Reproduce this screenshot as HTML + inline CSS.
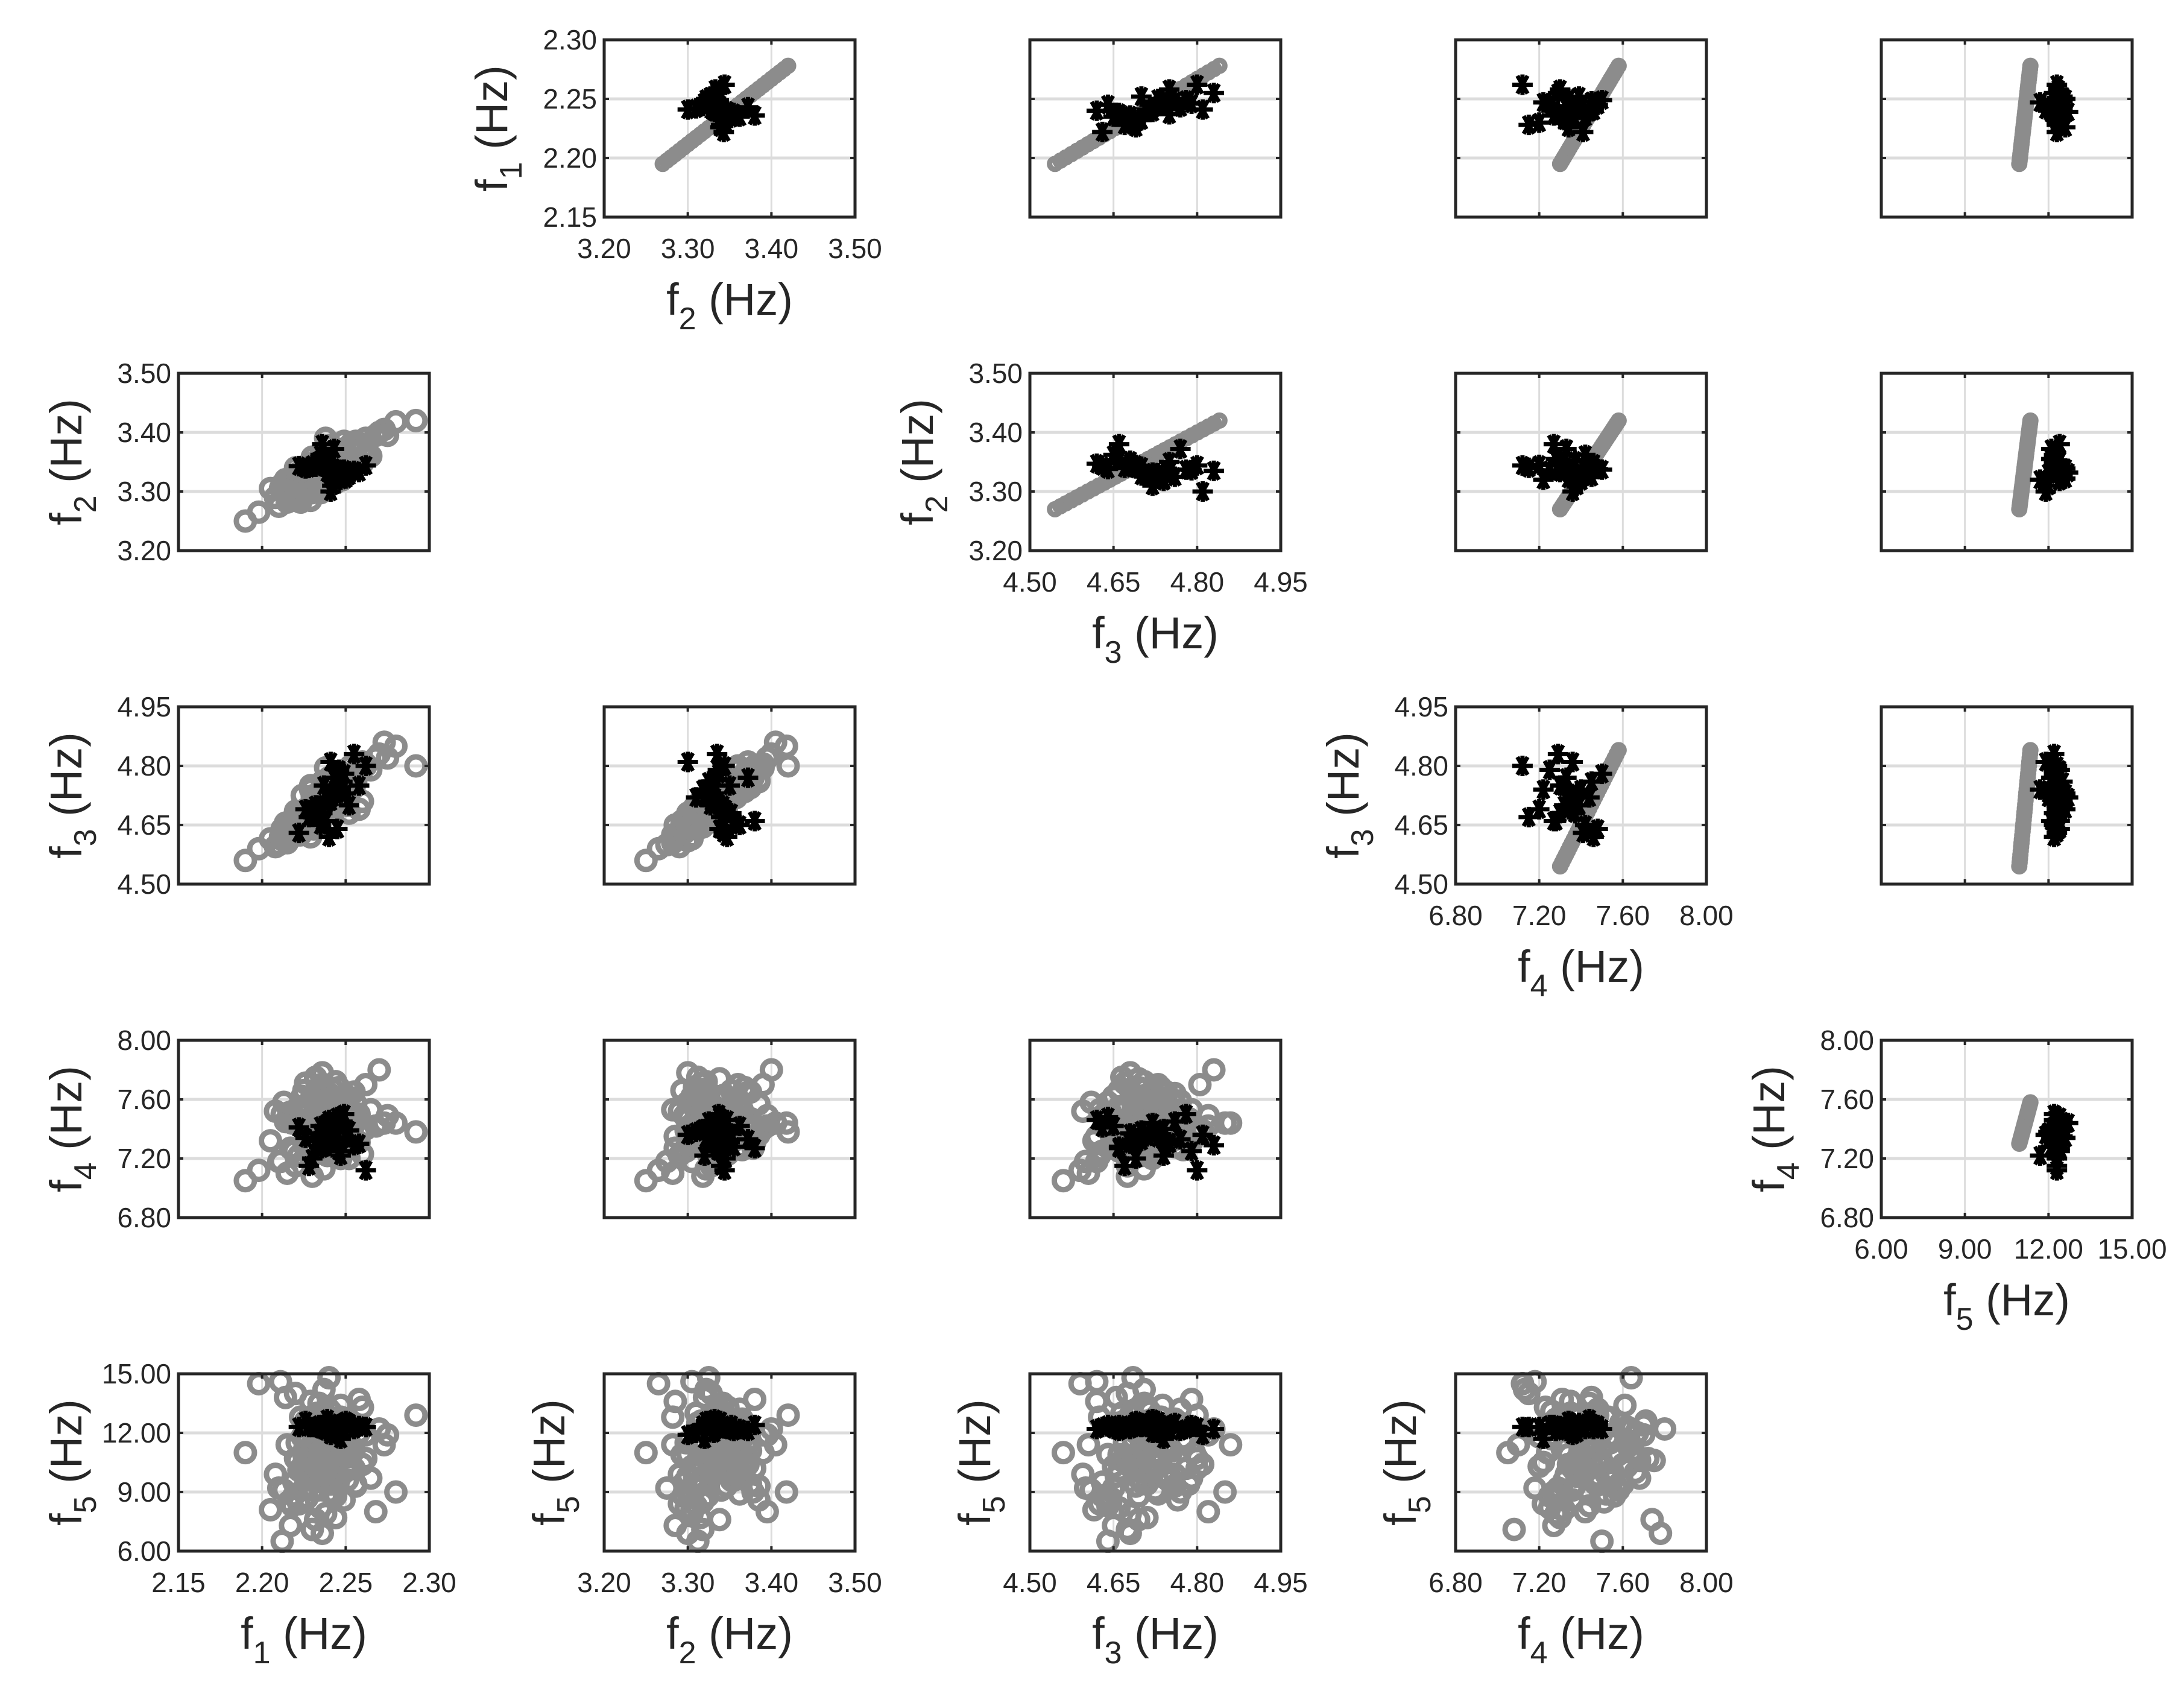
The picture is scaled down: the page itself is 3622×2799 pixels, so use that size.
<!DOCTYPE html>
<html><head><meta charset="utf-8"><style>
html,body{margin:0;padding:0;background:#fff}
svg{display:block}
text{font-family:"Liberation Sans",Arial,sans-serif;fill:#262626}
</style></head><body>
<svg id="fig" width="3622" height="2799" viewBox="0 0 3622 2799" xmlns="http://www.w3.org/2000/svg"></svg>
<script>
// ---- axis ranges & ticks per variable ----
const varLo = [2.15, 3.20, 4.50, 6.80, 6.00];
const varHi = [2.30, 3.50, 4.95, 8.00, 15.00];
const ticksF1 = [2.15, 2.20, 2.25, 2.30];
const ticksF2 = [3.20, 3.30, 3.40, 3.50];
const ticksF3 = [4.50, 4.65, 4.80, 4.95];
const ticksF4 = [6.80, 7.20, 7.60, 8.00];
const ticksF5 = [6.00, 9.00, 12.00, 15.00];
const tickSets = [ticksF1, ticksF2, ticksF3, ticksF4, ticksF5];
// ---- gray samples (circles) ----
const grayF1 = [2.235,2.228,2.244,2.251,2.219,2.240,2.232,2.262,2.210,2.247,2.226,2.238,2.255,2.214,2.243,2.231,2.270,2.222,2.249,2.236,2.198,2.241,2.229,2.258,2.217,2.246,2.233,2.280,2.224,2.252,2.237,2.205,2.244,2.230,2.265,2.220,2.239,2.248,2.227,2.190,2.256,2.234,2.242,2.212,2.250,2.225,2.292,2.238,2.232,2.246,2.221,2.260,2.236,2.229,2.243,2.215,2.253,2.240,2.231,2.275,
2.242,2.226,2.250,2.233,2.218,2.247,2.238,2.229,2.256,2.221,2.244,2.235,2.262,2.213,2.240,2.231,2.249,2.224,2.237,2.253,2.208,2.245,2.232,2.268,2.227,2.241,2.219,2.252,2.236,2.230,2.246,2.222,2.258,2.234,2.243,2.216,2.239,2.250,2.228,2.273,2.236,2.248,2.223,2.241,2.233,2.255,2.211,2.244,2.238,2.226,2.251,2.220,2.247,2.235,2.230,2.260,2.242,2.225,2.239,2.245];
const grayF2 = [3.335,3.312,3.352,3.340,3.295,3.362,3.318,3.390,3.275,3.330,3.340,3.305,3.375,3.320,3.355,3.300,3.400,3.290,3.372,3.345,3.265,3.318,3.345,3.345,3.285,3.368,3.310,3.418,3.332,3.335,3.352,3.305,3.322,3.298,3.360,3.328,3.358,3.320,3.302,3.250,3.385,3.342,3.315,3.312,3.365,3.293,3.420,3.350,3.338,3.327,3.330,3.348,3.313,3.347,3.362,3.282,3.380,3.325,3.340,3.395,
3.340,3.300,3.365,3.325,3.310,3.330,3.352,3.285,3.375,3.320,3.315,3.360,3.360,3.300,3.345,3.338,3.385,3.305,3.322,3.350,3.290,3.372,3.312,3.395,3.328,3.342,3.296,3.335,3.368,3.318,3.356,3.332,3.380,3.308,3.348,3.318,3.326,3.362,3.346,3.405,3.300,3.337,3.282,3.378,3.344,3.368,3.305,3.324,3.390,3.316,3.355,3.340,3.335,3.298,3.358,3.372,3.320,3.310,3.365,3.330];
const grayF3 = [4.720,4.660,4.750,4.700,4.630,4.770,4.695,4.805,4.600,4.735,4.690,4.680,4.745,4.655,4.760,4.640,4.830,4.625,4.780,4.700,4.590,4.710,4.740,4.690,4.650,4.735,4.665,4.850,4.725,4.680,4.755,4.615,4.705,4.670,4.790,4.675,4.720,4.715,4.645,4.560,4.760,4.705,4.690,4.640,4.775,4.660,4.800,4.745,4.695,4.715,4.675,4.710,4.700,4.750,4.730,4.605,4.800,4.685,4.725,4.820,
4.700,4.655,4.760,4.690,4.640,4.720,4.740,4.620,4.785,4.670,4.710,4.730,4.800,4.610,4.725,4.680,4.765,4.650,4.705,4.750,4.595,4.745,4.665,4.820,4.685,4.715,4.630,4.735,4.760,4.675,4.755,4.660,4.790,4.695,4.720,4.645,4.700,4.770,4.690,4.860,4.680,4.728,4.625,4.770,4.712,4.780,4.620,4.695,4.795,4.670,4.748,4.685,4.738,4.660,4.722,4.810,4.705,4.650,4.742,4.718];
const grayF4 = [7.43,7.30,7.55,7.62,7.25,7.48,7.36,7.70,7.18,7.52,7.40,7.28,7.65,7.45,7.33,7.58,7.80,7.22,7.46,7.38,7.12,7.60,7.42,7.50,7.27,7.68,7.35,7.44,7.55,7.20,7.47,7.32,7.72,7.39,7.53,7.15,7.41,7.62,7.29,7.05,7.57,7.44,7.34,7.50,7.26,7.66,7.38,7.48,7.74,7.31,7.45,7.23,7.59,7.37,7.52,7.10,7.42,7.64,7.36,7.49,
7.50,7.38,7.28,7.60,7.44,7.20,7.66,7.35,7.47,7.54,7.30,7.70,7.40,7.58,7.24,7.48,7.36,7.62,7.13,7.45,7.52,7.33,7.75,7.42,7.57,7.26,7.49,7.39,7.64,7.08,7.46,7.55,7.31,7.68,7.41,7.51,7.22,7.59,7.37,7.44,7.78,7.34,7.53,7.27,7.63,7.43,7.18,7.56,7.40,7.71,7.32,7.48,7.61,7.25,7.46,7.39,7.67,7.29,7.53,7.42];
const grayF5 = [10.8,12.5,9.6,11.4,8.8,13.2,10.2,11.9,9.2,12.8,10.5,7.9,11.1,13.8,9.9,10.9,12.2,8.4,11.6,10.0,14.5,9.4,11.3,12.0,7.3,10.6,13.0,9.0,11.8,10.3,12.6,8.1,10.7,11.5,9.7,14.0,10.1,12.3,8.7,11.0,9.3,13.5,10.4,6.5,11.7,10.9,12.9,9.8,7.6,11.2,10.6,13.3,9.5,12.1,8.9,11.4,10.2,14.8,9.1,11.9,
11.2,9.8,12.7,10.4,8.3,11.8,10.0,13.6,9.4,11.5,7.7,12.4,10.7,9.1,11.0,12.9,8.6,10.3,14.2,11.3,9.9,12.1,10.6,8.0,11.7,13.1,9.5,10.8,12.2,7.1,11.1,10.1,13.7,9.7,11.9,8.5,10.5,12.5,9.3,11.4,6.9,10.9,12.8,9.0,11.6,10.2,14.6,8.8,11.0,12.6,9.6,10.7,13.4,8.2,11.3,10.4,12.0,9.2,11.8,10.0];
const graySets = [grayF1, grayF2, grayF3, grayF4, grayF5];
// ---- black samples (asterisks) ----
const blackF1 = [2.240,2.236,2.244,2.238,2.248,2.232,2.242,2.246,2.235,2.250,2.230,2.241,2.245,2.237,2.252,2.228,2.243,2.239,2.255,2.234,2.247,2.222,2.241,2.249,2.236,2.244,2.262,2.226,2.240,2.258];
const blackF2 = [3.330,3.348,3.318,3.355,3.325,3.342,3.310,3.336,3.362,3.322,3.345,3.300,3.338,3.350,3.327,3.340,3.372,3.332,3.335,3.352,3.320,3.343,3.328,3.337,3.380,3.331,3.344,3.339,3.347,3.333];
const blackF3 = [4.71,4.68,4.74,4.66,4.76,4.70,4.72,4.79,4.65,4.73,4.69,4.81,4.64,4.75,4.70,4.67,4.77,4.72,4.83,4.68,4.74,4.63,4.71,4.78,4.66,4.73,4.80,4.69,4.62,4.75];
const blackF4 = [7.35,7.30,7.40,7.28,7.45,7.32,7.38,7.25,7.42,7.34,7.20,7.36,7.48,7.31,7.39,7.15,7.33,7.44,7.29,7.37,7.22,7.41,7.35,7.50,7.27,7.38,7.12,7.34,7.46,7.30];
const blackF5 = [12.3,12.2,12.4,12.1,12.5,12.3,12.0,12.4,12.2,12.6,12.3,11.9,12.4,12.2,12.5,12.3,12.1,12.7,12.2,12.4,11.7,12.3,12.5,12.2,12.4,12.0,12.3,12.6,12.2,12.35];
const blackSets = [blackF1, blackF2, blackF3, blackF4, blackF5];
// ---- gray line (upper triangle) endpoints per variable ----
const lineLo = [2.195, 3.270, 4.545, 7.30, 10.95];
const lineHi = [2.278, 3.420, 4.840, 7.58, 11.35];

const NS = "http://www.w3.org/2000/svg";
const svg = document.getElementById('fig');
function mk(tag, attrs, parent){const e=document.createElementNS(NS,tag);for(const k in attrs)e.setAttribute(k,attrs[k]);(parent||svg).appendChild(e);return e;}

const W=416,H=294;
function boxLeft(c){return 296+706*c;}
function boxTop(r){return 66+553*r;}
const showX = ["0,1","1,2","2,3","3,4","4,0","4,1","4,2","4,3"];
const showYT = ["0,1","1,0","1,2","2,0","2,3","3,0","3,4","4,0"];
const showYL = showYT.concat(["4,1","4,2","4,3"]);

function label(parent, idx, x, y, rotate){
  const t = mk('text',{x:x,y:y,'font-size':74,'text-anchor':'middle'},parent);
  if(rotate) t.setAttribute('transform','rotate(-90 '+x+' '+y+')');
  t.appendChild(document.createTextNode('f'));
  const s = mk('tspan',{dy:24,'font-size':52},t); s.textContent=String(idx+1);
  const h = mk('tspan',{dy:-24},t); h.textContent=' (Hz)';
  return t;
}
function asterisk(g,x,y){
  const a=17;
  const p = mk('path',{d:`M${x-a},${y}H${x+a}M${x-a*0.5},${y-a*0.87}L${x+a*0.5},${y+a*0.87}M${x-a*0.5},${y+a*0.87}L${x+a*0.5},${y-a*0.87}M${x},${y-a}V${y+a}`,stroke:'#000','stroke-width':7,fill:'none'},g);
  
  
}

for(let r=0;r<5;r++){for(let c=0;c<5;c++){
  if(r===c) continue;
  const key=r+','+c;
  const L=boxLeft(c),T=boxTop(r);
  const g=mk('g',{});
  
  
  const xs=v=>L+(v-varLo[c])/(varHi[c]-varLo[c])*W;
  const ys=v=>T+H-(v-varLo[r])/(varHi[r]-varLo[r])*H;
  const xt=tickSets[c], yt=tickSets[r];
  for(let i=1;i<xt.length-1;i++){const gl=mk('line',{x1:xs(xt[i]),x2:xs(xt[i]),y1:T,y2:T+H,stroke:'#dcdcdc','stroke-width':3},g);}
  for(let i=1;i<yt.length-1;i++){const gl=mk('line',{x1:L,x2:L+W,y1:ys(yt[i]),y2:ys(yt[i]),stroke:'#dcdcdc','stroke-width':5},g);}
  const gg=mk('g',{stroke:'#8c8c8c','stroke-width':9,fill:'none'},g);
  
  
  if(r>c){
    const X=graySets[c],Y=graySets[r];
    for(let i=0;i<X.length;i++){const ci=mk('circle',{cx:xs(X[i]),cy:ys(Y[i]),r:15},gg);}
  } else {
    const n=30;
    for(let i=0;i<=n;i++){const f=i/n;
      const ci=mk('circle',{cx:xs(lineLo[c]+(lineHi[c]-lineLo[c])*f),cy:ys(lineLo[r]+(lineHi[r]-lineLo[r])*f),r:9},gg);
      
      }
  }
  const bg=mk('g',{},g);
  
  
  const BX=blackSets[c],BY=blackSets[r];
  for(let i=0;i<BX.length;i++) asterisk(bg,xs(BX[i]),ys(BY[i]));
  const bx=mk('rect',{x:L,y:T,width:W,height:H,fill:'none',stroke:'#262626','stroke-width':5},g);
  
  
  for(const v of xt){mk('line',{x1:xs(v),x2:xs(v),y1:T+H,y2:T+H-8,stroke:'#262626','stroke-width':4},g);mk('line',{x1:xs(v),x2:xs(v),y1:T,y2:T+8,stroke:'#262626','stroke-width':4},g);}
  for(const v of yt){mk('line',{x1:L,x2:L+8,y1:ys(v),y2:ys(v),stroke:'#262626','stroke-width':4},g);mk('line',{x1:L+W,x2:L+W-8,y1:ys(v),y2:ys(v),stroke:'#262626','stroke-width':4},g);}
  if(showX.includes(key)){
    for(const v of xt){const t=mk('text',{x:xs(v),y:T+H+68,'font-size':46,'text-anchor':'middle'},g);t.textContent=v.toFixed(2);}
    const xl=label(g,c,L+W/2,T+H+162,false);
    
    
  }
  if(showYT.includes(key)){
    for(const v of yt){const t=mk('text',{x:L-12,y:ys(v)+16,'font-size':46,'text-anchor':'end'},g);t.textContent=v.toFixed(2);}
  }
  if(showYL.includes(key)){
    const off=showYT.includes(key)?187:92;
    const yl=label(g,r,L-off+26,T+H/2,true);
    
    
  }
}}
</script>
</body></html>
